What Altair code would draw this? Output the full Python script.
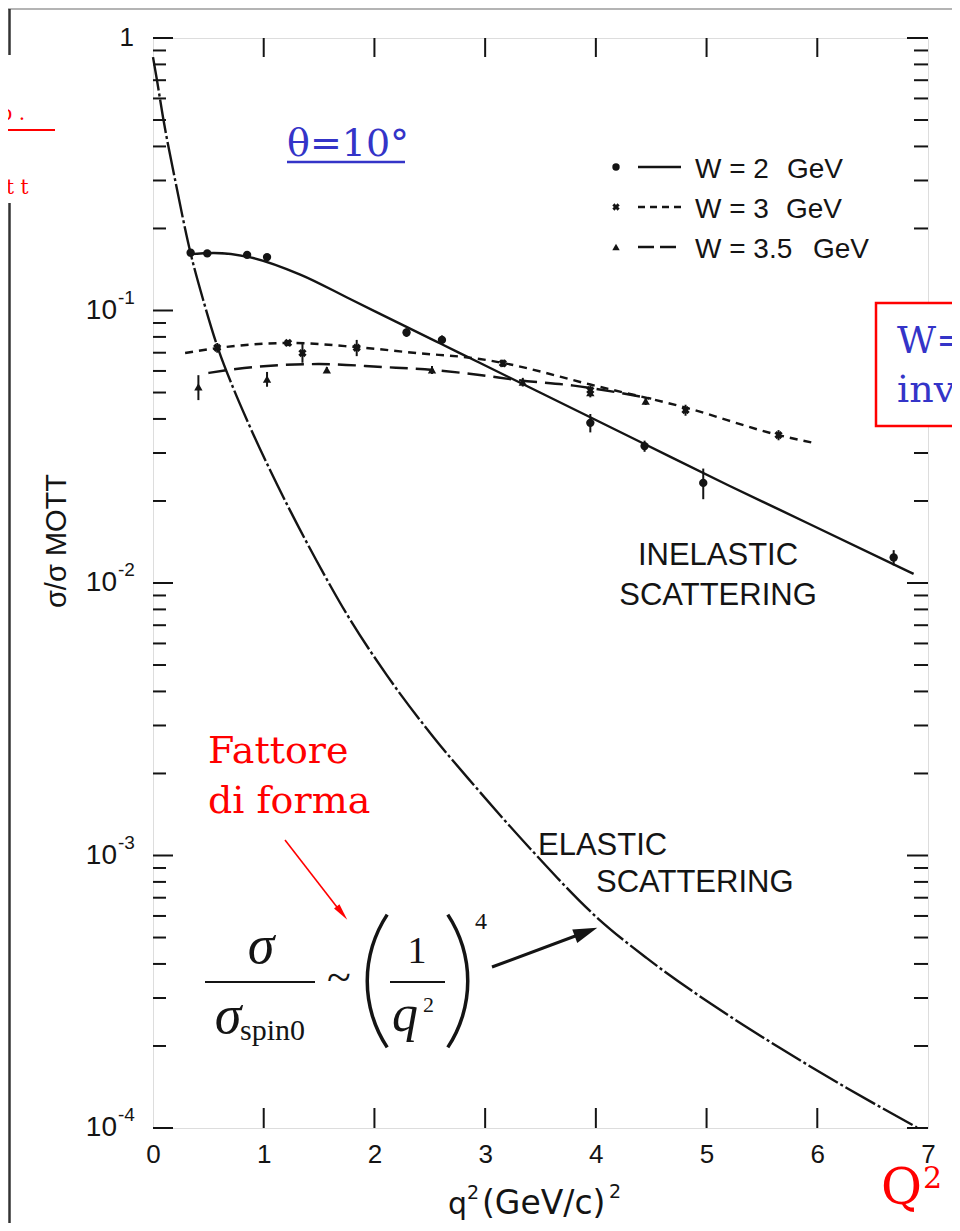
import altair as alt
import pandas as pd
import math

# ---------------- data ----------------
elastic_q2 = [0.0, 0.036, 0.09, 0.2, 0.34, 0.46, 0.58, 0.72, 0.85, 1.05, 1.24, 1.48, 1.75,
              2.11, 2.53, 2.89, 3.41, 4.01, 4.46, 5.06, 5.66, 6.27, 6.9]
elastic_val = [0.851, 0.700, 0.513, 0.301, 0.162, 0.107, 0.0741, 0.0525, 0.0395, 0.02634, 0.01839,
               0.01202, 0.00769, 0.00460, 0.00273, 0.00183, 0.001057, 0.000592, 0.00042, 0.000282,
               0.000197, 0.000140, 0.0001005]

w2_curve_q2 = [0.33, 0.55, 0.88, 1.33, 1.78, 2.23, 2.6, 2.95, 3.5, 4.43, 5.2, 5.91, 6.87]
w2_curve_val = [0.161, 0.1626, 0.1567, 0.1355, 0.1102, 0.0895, 0.0755, 0.0643, 0.0499, 0.0325,
                0.0228, 0.0166, 0.0108]

w3_curve_q2 = [0.29, 0.58, 1.24, 1.84, 2.38, 2.95, 3.16, 3.95, 4.82, 5.65, 5.96]
w3_curve_val = [0.0698, 0.0728, 0.076, 0.0734, 0.0698, 0.0664, 0.0642, 0.0535, 0.0439, 0.0349, 0.0327]

w35_curve_q2 = [0.5, 0.75, 1.03, 1.5, 2.08, 2.53, 2.95, 3.3, 3.8, 4.2, 4.5]
w35_curve_val = [0.059, 0.061, 0.0626, 0.0636, 0.062, 0.0605, 0.058, 0.0555, 0.053, 0.050, 0.0475]

w2_pts_q2 = [0.34, 0.49, 0.85, 1.03, 2.29, 2.61, 3.95, 4.44, 4.97, 6.69]
w2_pts_val = [0.163, 0.162, 0.160, 0.157, 0.083, 0.078, 0.0387, 0.0318, 0.0233, 0.0124]
w2_pts_err = [0.004, 0.004, 0.003, 0.003, 0.003, 0.003, 0.003, 0.0015, 0.003, 0.0008]

w3_pts_q2 = [0.58, 1.22, 1.35, 1.84, 3.16, 3.95, 4.81, 5.65]
w3_pts_val = [0.073, 0.076, 0.0698, 0.073, 0.064, 0.051, 0.0431, 0.0349]
w3_pts_err = [0.003, 0.002, 0.0055, 0.005, 0.002, 0.002, 0.002, 0.0015]

w35_pts_q2 = [0.41, 1.03, 1.57, 2.52, 3.34, 3.95, 4.45]
w35_pts_val = [0.0524, 0.056, 0.0605, 0.0605, 0.0546, 0.050, 0.0465]
w35_pts_err = [0.0055, 0.0035, 0.0015, 0.002, 0.002, 0.002, 0.0015]

x_ticks = [0, 1, 2, 3, 4, 5, 6, 7]
y_decades = [1, 0.1, 0.01, 0.001, 0.0001]
y_exponents = ["", "-1", "-2", "-3", "-4"]
legend_w = ["W = 2", "W = 3", "W = 3.5"]
legend_unit = "GeV"

# ---------------- layout helpers ----------------
X0, Y0 = 153, 38          # page position of plot origin
W, H = 775, 1090
INK = "#141414"
BLUE = "#3434c8"
RED = "#ff0000"

xs = alt.Scale(domain=[0, 7], nice=False, zero=False)
ys = alt.Scale(type="log", domain=[1e-4, 1], nice=False)
xaxis = alt.Axis(values=x_ticks, title=None, grid=False, ticks=False, tickSize=0, domain=False,
                 labelFont="Liberation Sans", labelFontSize=26, labelColor=INK, labelPadding=13,
                 labelFlush=False, labelOverlap=False)

one = pd.DataFrame({"a": [0]})


def X(field="q2"):
    return alt.X(f"{field}:Q", scale=xs, axis=xaxis)


def Y(field="v"):
    return alt.Y(f"{field}:Q", scale=ys, axis=None)


def T(text, x, y, size, font="Liberation Sans", color=INK, align="left",
      baseline="alphabetic", angle=None, style=None):
    kw = dict(text=text, fontSize=size, font=font, color=color, align=align, baseline=baseline)
    if angle is not None:
        kw["angle"] = angle
    if style:
        kw["fontStyle"] = style
    return alt.Chart(one).mark_text(**kw).encode(x=alt.value(x - X0), y=alt.value(y - Y0))


def R(x1, y1, x2, y2, color=INK, w=2.0, dash=None):
    kw = dict(color=color, strokeWidth=w)
    if dash:
        kw["strokeDash"] = dash
    return alt.Chart(one).mark_rule(**kw).encode(
        x=alt.value(x1 - X0), x2=alt.value(x2 - X0), y=alt.value(y1 - Y0), y2=alt.value(y2 - Y0))


def head(x, y, ang, size, color, path="M0,-1L0.4,1L-0.4,1Z"):
    return alt.Chart(one).mark_point(shape=path, filled=True, size=size, angle=ang, color=color,
                                     opacity=1, strokeWidth=0).encode(
        x=alt.value(x - X0), y=alt.value(y - Y0))


def paren(xe, yc, h, bulge, left=True):
    r = ((h / 2) ** 2 + bulge ** 2) / (2 * bulge)
    half = math.asin((h / 2) / r)
    if left:
        cx, mid = xe + r, 1.5 * math.pi
    else:
        cx, mid = xe - r, 0.5 * math.pi
    return alt.Chart(one).mark_arc(color=INK).encode(
        x=alt.value(cx - X0), y=alt.value(yc - Y0),
        theta=alt.value(mid - half), theta2=alt.value(mid + half),
        radius=alt.value(r + 1.5), radius2=alt.value(r - 2.0))


layers = []

# ---------------- curves ----------------
def curve(q, v, dash):
    kw = dict(color=INK, strokeWidth=2.4, interpolate="monotone")
    if dash:
        kw["strokeDash"] = dash
    return alt.Chart(pd.DataFrame({"q2": q, "v": v})).mark_line(**kw).encode(x=X(), y=Y())


layers.append(curve(elastic_q2, elastic_val, [34, 3, 3, 3]))
layers.append(curve(w2_curve_q2, w2_curve_val, None))
layers.append(curve(w3_curve_q2, w3_curve_val, [8, 6]))
layers.append(curve(w35_curve_q2, w35_curve_val, [18, 8]))

# ---------------- data points with error bars ----------------
def points(q, v, e, shape, size, angle=0):
    df = pd.DataFrame({"q2": q, "v": v, "lo": [a - b for a, b in zip(v, e)],
                       "hi": [a + b for a, b in zip(v, e)]})
    bars = alt.Chart(df).mark_rule(color=INK, strokeWidth=2).encode(
        x=X(), y=Y("lo"), y2="hi:Q")
    pts = alt.Chart(df).mark_point(shape=shape, filled=True, size=size, color=INK, opacity=1,
                                   angle=angle).encode(x=X(), y=Y())
    return [bars, pts]


layers += points(w2_pts_q2, w2_pts_val, w2_pts_err, "circle", 70)
layers += points(w3_pts_q2, w3_pts_val, w3_pts_err, "cross", 70, 45)
layers += points(w35_pts_q2, w35_pts_val, w35_pts_err, "triangle-up", 70)

# ---------------- inward ticks ----------------
minor = pd.DataFrame({"v": [m * 10 ** e for e in range(-4, 0) for m in range(2, 10)]})
major = pd.DataFrame({"v": y_decades})
xt = pd.DataFrame({"q2": x_ticks[1:-1]})
for df, ln in [(minor, 13), (major, 20)]:
    layers.append(alt.Chart(df).mark_rule(color=INK, strokeWidth=2).encode(
        y=Y(), x=alt.value(0), x2=alt.value(ln)))
    layers.append(alt.Chart(df).mark_rule(color=INK, strokeWidth=2).encode(
        y=Y(), x=alt.value(W), x2=alt.value(W - ln - 1)))
layers.append(alt.Chart(xt).mark_rule(color=INK, strokeWidth=2).encode(
    x=X(), y=alt.value(0), y2=alt.value(19)))
layers.append(alt.Chart(xt).mark_rule(color=INK, strokeWidth=2).encode(
    x=X(), y=alt.value(H), y2=alt.value(H - 20)))

# ---------------- y tick labels ----------------
ylab = pd.DataFrame({"v": y_decades, "exp": y_exponents})
layers.append(alt.Chart(ylab[ylab.v < 1]).mark_text(
    text="10", font="Liberation Sans", fontSize=28, color=INK, align="right", baseline="middle").encode(
    y=Y(), x=alt.value(117 - X0)))
layers.append(alt.Chart(ylab[ylab.v < 1]).mark_text(
    font="Liberation Sans", fontSize=19, color=INK, align="left", baseline="middle", dy=-13).encode(
    y=Y(), x=alt.value(118 - X0), text="exp:N"))
layers.append(alt.Chart(ylab[ylab.v >= 1]).mark_text(
    text="1", font="Liberation Sans", fontSize=26, color=INK, align="right", baseline="middle").encode(
    y=Y(), x=alt.value(134 - X0)))

# axis titles
layers.append(T("σ/σ MOTT", 57, 541, 29, angle=270, align="center", baseline="middle"))
layers.append(T("q", 448, 1214, 30, font="DejaVu Sans"))
layers.append(T("2", 467, 1199, 19, font="DejaVu Sans"))
layers.append(T("(GeV/c)", 482, 1214, 33, font="DejaVu Sans"))
layers.append(T("2", 609, 1198, 19, font="DejaVu Sans"))

# ---------------- legend ----------------
rows = [178, 218, 258]
unit_x = [787, 786, 813]
dashes = [None, [7, 5], [16, 6]]
shapes = [("circle", 0), ("cross", 45), ("triangle-up", 0)]
for lab, yb, ux, d, (shp, ang) in zip(legend_w, rows, unit_x, dashes, shapes):
    yc = yb - 11
    layers.append(alt.Chart(one).mark_point(shape=shp, angle=ang, filled=True, size=55, color=INK,
                                            opacity=1).encode(x=alt.value(616 - X0), y=alt.value(yc - Y0)))
    layers.append(R(638, yc, 681, yc, w=2.4, dash=d))
    layers.append(T(lab, 695, yb, 28))
    layers.append(T(legend_unit, ux, yb, 28))

# ---------------- in-plot labels ----------------
layers.append(T("INELASTIC", 718, 565, 31, align="center"))
layers.append(T("SCATTERING", 718, 605, 31, align="center"))
layers.append(T("ELASTIC", 538, 855, 31))
layers.append(T("SCATTERING", 596, 892, 31))

# ---------------- slide annotations ----------------
layers.append(T("θ=10°", 287, 156, 38, font="DejaVu Serif", color=BLUE))
layers.append(R(287, 162, 405, 162, color=BLUE, w=2.5))

layers.append(T("Fattore", 208, 763, 38, font="DejaVu Serif", color=RED))
layers.append(T("di forma", 208, 813, 38, font="DejaVu Serif", color=RED))
layers.append(R(285, 840, 340, 911, color=RED, w=1.6))
layers.append(head(342, 913, 142, 290, RED))

# formula  sigma / sigma_spin0 ~ (1/q^2)^4
layers.append(T("σ", 261, 963, 54, font="Liberation Serif", style="italic", align="center"))
layers.append(R(205, 982, 315, 982, w=2))
layers.append(T("σ", 228, 1033, 54, font="Liberation Serif", style="italic", align="center"))
layers.append(T("spin0", 240, 1040, 30, font="Liberation Serif"))
layers.append(T("~", 339, 992, 44, font="Liberation Serif", align="center"))
layers.append(paren(367, 981, 133, 20, left=True))
layers.append(paren(468, 981, 133, 20, left=False))
layers.append(T("1", 417, 963, 38, font="Liberation Serif", align="center"))
layers.append(R(390, 982, 445, 982, w=2))
layers.append(T("q", 405, 1031, 52, font="Liberation Serif", style="italic", align="center"))
layers.append(T("2", 423, 1012, 22, font="Liberation Serif"))
layers.append(T("4", 475, 929, 24, font="Liberation Serif"))
layers.append(R(492, 967, 586, 932, w=3))
layers.append(head(586, 932, 69.6, 576, INK, path="M0,-1L0.6,1L-0.6,1Z"))

# red box on the right (cropped by the page edge)
layers.append(alt.Chart(one).mark_rect(fill="white", stroke=RED, strokeWidth=2.5).encode(
    x=alt.value(876 - X0), x2=alt.value(1100 - X0), y=alt.value(303 - Y0), y2=alt.value(426 - Y0)))
layers.append(T("W=", 897, 353, 38, font="DejaVu Serif", color=BLUE))
layers.append(T("inv", 897, 402, 38, font="DejaVu Serif", color=BLUE))

# Q^2 at bottom right
layers.append(T("Q", 881, 1204, 50, font="DejaVu Serif", color=RED))
layers.append(T("2", 923, 1188, 30, font="DejaVu Serif", color=RED))

# cropped red text on far left
layers.append(T("p .", 25, 120, 20, font="DejaVu Serif", color=RED, align="right"))
layers.append(R(0, 130, 55, 130, color=RED, w=2))
layers.append(T("t t", 6, 194, 20, font="DejaVu Serif", color=RED))

# page frame lines
layers.append(R(0, 9, 1000, 9, color="#b4b4b4", w=2))
layers.append(R(9.5, 9, 9.5, 55, color="#333333", w=2.5))
layers.append(R(9.5, 203, 9.5, 1240, color="#333333", w=2.5))

chart = alt.layer(*layers).properties(
    width=W, height=H,
    padding={"left": 145, "top": 30, "right": 24, "bottom": 95},
    autosize=alt.AutoSizeParams(type="none"),
).configure_view(stroke=INK, strokeWidth=2.5).configure(background="white")

chart.save("out.html", embed_options={"renderer": "svg", "actions": False})
